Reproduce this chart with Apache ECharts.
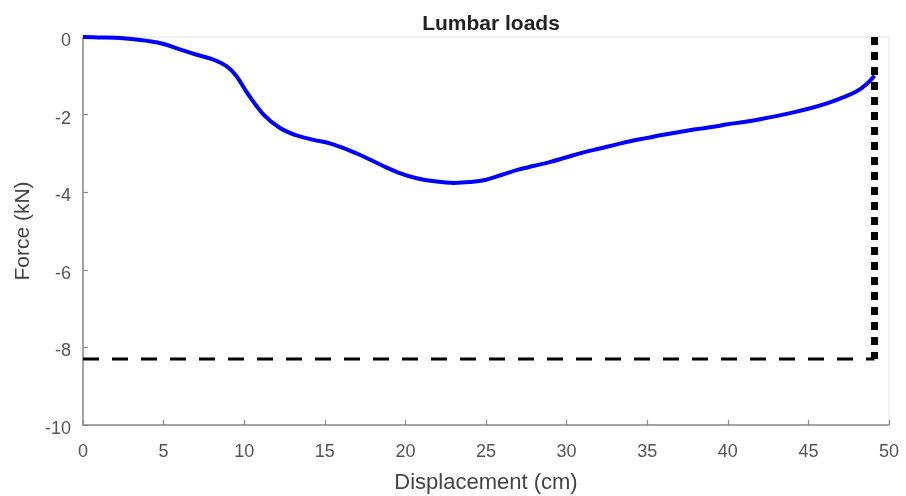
<!DOCTYPE html>
<html>
<head>
<meta charset="utf-8">
<script src="https://cdn.jsdelivr.net/npm/echarts@6/dist/echarts.min.js"></script>
<style>html,body{margin:0;padding:0;background:#fff}#c{width:906px;height:496px}</style>
</head>
<body>
<div id="c"></div>
<script>
const displacement = [0,1,2,3,4,5,6,7,8,8.9,9.5,10.2,11.2,12.2,13.2,14.3,15.3,16.4,17.4,18.5,19.6,20.7,21.8,23,24,25,26,27,28,29,30,31,32,33,34,35,36,37,38,39,40,41,42,43,44,45,46,47,48,48.6,49.1];
const force = [0,-0.01,-0.02,-0.05,-0.1,-0.18,-0.32,-0.45,-0.57,-0.75,-1.0,-1.45,-2.0,-2.34,-2.53,-2.65,-2.74,-2.9,-3.08,-3.3,-3.5,-3.64,-3.72,-3.76,-3.74,-3.68,-3.55,-3.42,-3.32,-3.22,-3.1,-2.98,-2.88,-2.78,-2.68,-2.6,-2.52,-2.45,-2.38,-2.32,-2.25,-2.19,-2.12,-2.04,-1.95,-1.85,-1.73,-1.58,-1.4,-1.22,-1.0];
const limitForce = -8.3;
const limitDisp = 49.1;
const xTicks = [0,5,10,15,20,25,30,35,40,45,50];
const yTicks = [0,-2,-4,-6,-8,-10];

const curve = displacement.map((d,i)=>[d,force[i]]);
const font = 'Liberation Sans, Arial, sans-serif';
const chart = echarts.init(document.getElementById('c'), null, {renderer:'canvas'});
chart.setOption({
  animation:false,
  backgroundColor:'#fff',
  title:{text:'Lumbar loads', left:486, textAlign:'center', top:9,
    textStyle:{fontFamily:font, fontSize:21, fontWeight:'bold', color:'#222'}},
  grid:{left:83, right:17, top:37, bottom:71, outerBoundsMode:'none', containLabel:false,
    show:true, borderColor:'#e3e3e3', borderWidth:1},
  xAxis:{type:'value', min:xTicks[0], max:xTicks[xTicks.length-1], interval:5,
    name:'Displacement (cm)', nameLocation:'middle', nameGap:47,
    nameTextStyle:{fontFamily:font, fontSize:22, color:'#444'},
    axisLine:{show:true, onZero:false, lineStyle:{color:'#8a8a8a', width:1.5}},
    axisTick:{show:true, inside:true, length:5, lineStyle:{color:'#8a8a8a', width:1.2}},
    axisLabel:{fontFamily:font, fontSize:18, color:'#555', margin:18},
    splitLine:{show:false}},
  yAxis:{type:'value', min:yTicks[yTicks.length-1], max:yTicks[0], interval:2,
    name:'Force (kN)', nameLocation:'middle', nameGap:49,
    nameTextStyle:{fontFamily:font, fontSize:21, color:'#444'},
    axisLine:{show:true, onZero:false, lineStyle:{color:'#8a8a8a', width:1.5}},
    axisTick:{show:true, inside:true, length:5, lineStyle:{color:'#8a8a8a', width:1.2}},
    axisLabel:{fontFamily:font, fontSize:18, color:'#555', margin:12, verticalAlign:'top', lineHeight:8},
    splitLine:{show:false}},
  series:[
    {type:'line', data:curve, smooth:0.4, symbol:'none', z:3,
      lineStyle:{color:'#0000ff', width:4}},
    {type:'line', data:[[0,limitForce],[limitDisp,limitForce]], symbol:'none', z:4,
      lineStyle:{color:'#000', width:3, type:[16,13]}},
    {type:'line', data:[[limitDisp,0],[limitDisp,limitForce]], symbol:'none', z:5,
      lineStyle:{color:'#000', width:7, type:[8,7], cap:'butt'}}
  ]
});
</script>
</body>
</html>
